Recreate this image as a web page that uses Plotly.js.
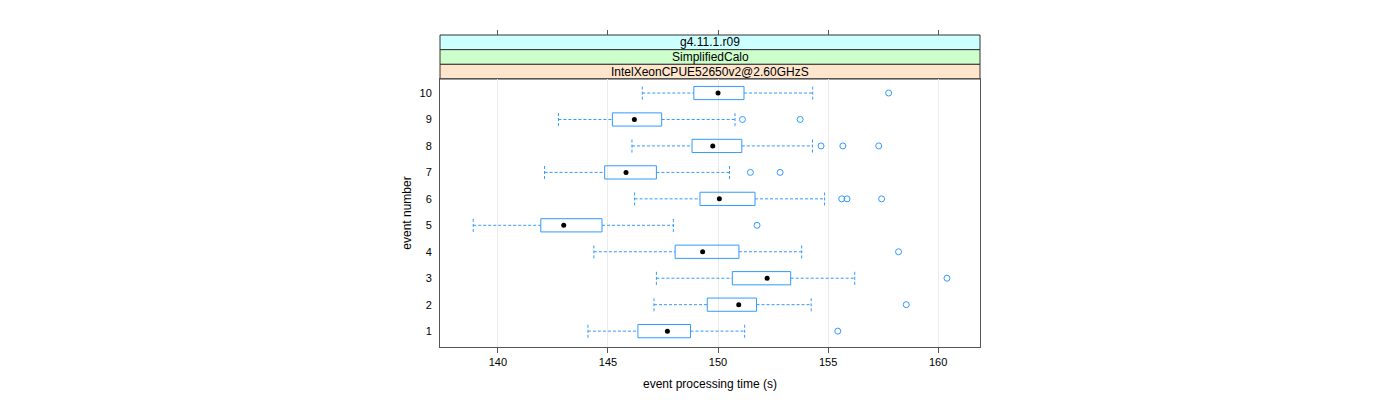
<!DOCTYPE html>
<html>
<head>
<meta charset="utf-8">
<script src="https://cdn.plot.ly/plotly-3.0.1.min.js"></script>
<style>html,body{margin:0;padding:0;background:#fff;}#chart{width:1400px;height:400px;}</style>
</head>
<body>
<div id="chart"></div>
<script>
// ---- data ----
var eventNumbers = [1, 2, 3, 4, 5, 6, 7, 8, 9, 10];
var whiskerLow  = [144.09, 147.09, 147.20, 144.36, 138.88, 146.21, 142.12, 146.09, 142.75, 146.56];
var quartile1   = [146.36, 149.51, 150.65, 148.05, 141.95, 149.18, 144.85, 148.82, 145.20, 148.90];
var medians     = [147.70, 150.94, 152.23, 149.30, 142.99, 150.06, 145.82, 149.76, 146.20, 150.00];
var quartile3   = [148.75, 151.75, 153.30, 150.95, 144.73, 151.68, 147.20, 151.08, 147.44, 151.18];
var whiskerHigh = [151.21, 154.23, 156.21, 153.80, 147.97, 154.84, 150.52, 154.29, 150.77, 154.30];
var outliers = [
  [155.44],
  [158.55],
  [160.40],
  [158.20],
  [151.77],
  [155.62, 155.86, 157.43],
  [151.47, 152.82],
  [154.68, 155.67, 157.30],
  [151.11, 153.73],
  [157.75]
];
var xTicks = [140, 145, 150, 155, 160];
var stripLabels = ["g4.11.1.r09", "SimplifiedCalo", "IntelXeonCPUE52650v2@2.60GHzS"];
var stripColors = ["#CCFFFF", "#CCFFCC", "#FFE5CC"];

// ---- build traces ----
var HALF = 0.25;
var BLUE = "#3399ff";
var boxX = [], boxY = [], whX = [], whY = [], capX = [], capY = [];
var outX = [], outY = [];
eventNumbers.forEach(function (r, i) {
  boxX.push(quartile1[i], quartile3[i], quartile3[i], quartile1[i], quartile1[i], null);
  boxY.push(r - HALF, r - HALF, r + HALF, r + HALF, r - HALF, null);
  whX.push(whiskerLow[i], quartile1[i], null, quartile3[i], whiskerHigh[i], null);
  whY.push(r, r, null, r, r, null);
  capX.push(whiskerLow[i], whiskerLow[i], null, whiskerHigh[i], whiskerHigh[i], null);
  capY.push(r - HALF, r + HALF, null, r - HALF, r + HALF, null);
  outliers[i].forEach(function (v) { outX.push(v); outY.push(r); });
});

var traces = [
  {type: "scatter", mode: "lines", x: whX, y: whY, line: {color: BLUE, width: 1, dash: "3px,2px"}, hoverinfo: "skip", showlegend: false},
  {type: "scatter", mode: "lines", x: capX, y: capY, line: {color: BLUE, width: 1, dash: "3px,2px"}, hoverinfo: "skip", showlegend: false},
  {type: "scatter", mode: "lines", x: boxX, y: boxY, line: {color: BLUE, width: 1}, hoverinfo: "skip", showlegend: false},
  {type: "scatter", mode: "markers", x: medians, y: eventNumbers, marker: {symbol: "circle", color: "#000", size: 5}, showlegend: false},
  {type: "scatter", mode: "markers", x: outX, y: outY, marker: {symbol: "circle-open", color: BLUE, size: 6, line: {width: 1, color: BLUE}}, showlegend: false},
  {type: "scatter", mode: "markers", x: [150], y: [5], xaxis: "x2", marker: {opacity: 0}, hoverinfo: "skip", showlegend: false}
];

// ---- strips ----
var TOPDOM = 268 / 312;
var stripH = (1 - TOPDOM) / 3;
var shapes = [], annotations = [];
stripLabels.forEach(function (lab, k) {
  var y1 = 1 - k * stripH, y0 = y1 - stripH;
  shapes.push({type: "rect", xref: "paper", yref: "paper", x0: 0, x1: 1, y0: y0, y1: y1,
    fillcolor: stripColors[k], line: {color: "#333", width: 1}, layer: "below"});
  annotations.push({xref: "paper", yref: "paper", x: 0.5, y: (y0 + y1) / 2, text: lab, showarrow: false,
    xanchor: "center", yanchor: "middle", font: {size: 12, color: "#000"}});
});

var xRange = [137.37, 161.9];
var layout = {
  width: 1400, height: 400,
  margin: {l: 440, r: 420, t: 35, b: 53},
  paper_bgcolor: "#fff", plot_bgcolor: "#fff",
  font: {family: "Liberation Sans, Arial, sans-serif", size: 11, color: "#000"},
  showlegend: false,
  xaxis: {
    range: xRange, tickvals: xTicks, ticktext: xTicks.map(String),
    ticks: "outside", ticklen: 5, tickcolor: "#555", tickwidth: 1,
    showgrid: true, gridcolor: "#ebebeb", gridwidth: 1, zeroline: false,
    showline: true, linecolor: "#555", linewidth: 1, mirror: true,
    tickfont: {size: 11}, domain: [0, 1],
    title: {text: "event processing time (s)", font: {size: 12}, standoff: 12}
  },
  xaxis2: {
    range: xRange, tickvals: xTicks, overlaying: "x", side: "top", anchor: "free", position: 1,
    ticks: "outside", ticklen: 5, tickcolor: "#555", tickwidth: 1,
    showticklabels: false, showgrid: false, zeroline: false, showline: false
  },
  yaxis: {
    range: [0.4, 10.53], tickvals: eventNumbers, ticktext: eventNumbers.map(String),
    ticks: "", showgrid: false, zeroline: false,
    showline: true, linecolor: "#555", linewidth: 1, mirror: true,
    tickfont: {size: 11}, domain: [0, TOPDOM], ticklabelstandoff: 5,
    title: {text: "event number", font: {size: 12}, standoff: 5}
  },
  shapes: shapes,
  annotations: annotations
};

Plotly.newPlot("chart", traces, layout, {displayModeBar: false, staticPlot: true});
</script>
</body>
</html>
